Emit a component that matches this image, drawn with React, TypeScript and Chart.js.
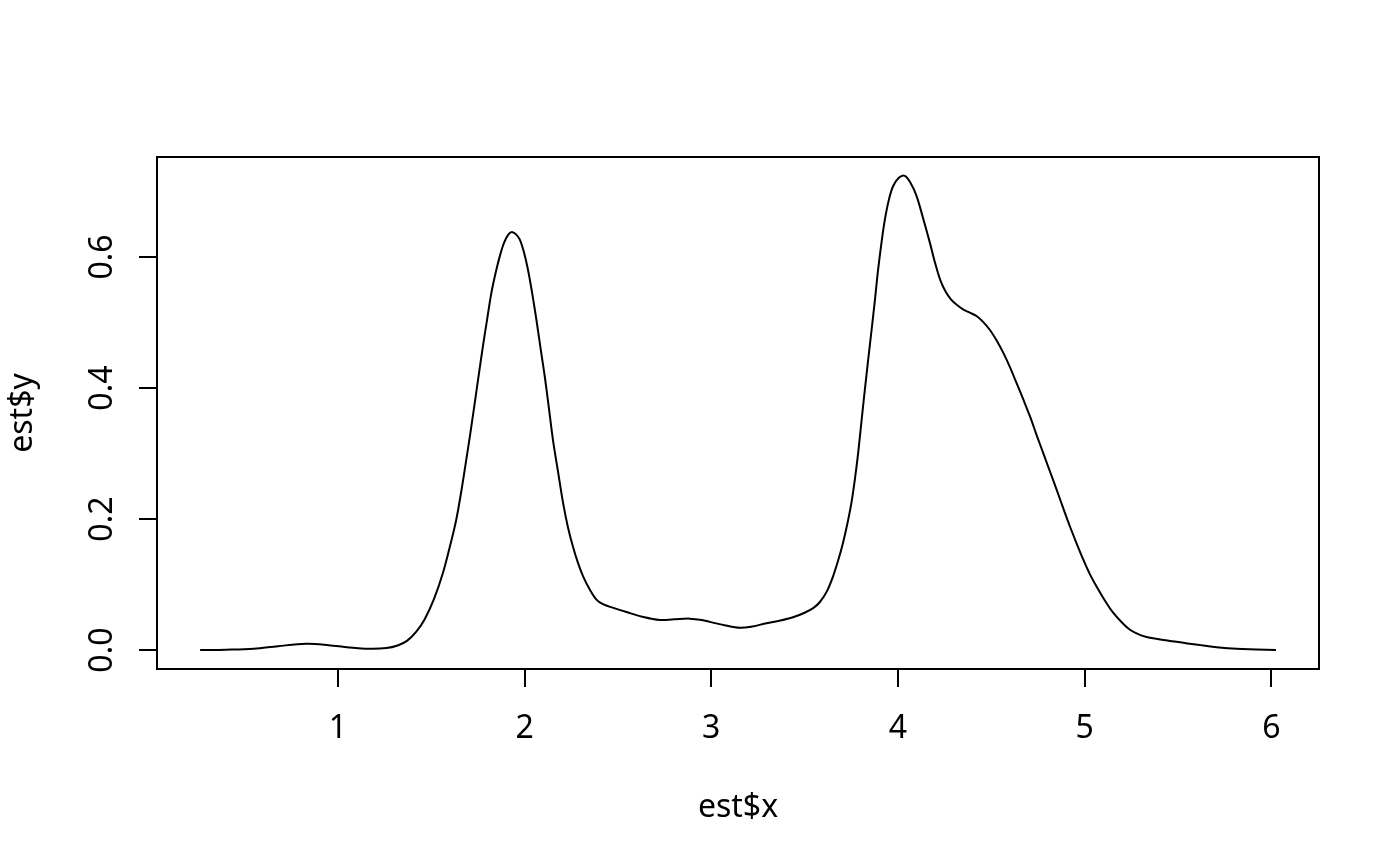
import React, { useEffect, useRef } from "react";
import { Chart, registerables } from "chart.js";

Chart.register(...registerables);

// Density estimate (est$x, est$y)
const estX: number[] = [
  0.262, 0.4, 0.55, 0.68, 0.83, 0.95, 1.06, 1.17, 1.26, 1.32, 1.37, 1.42, 1.465, 1.515, 1.563, 1.6,
  1.634, 1.662, 1.688, 1.711, 1.733, 1.755, 1.777, 1.8, 1.822, 1.845, 1.867, 1.885, 1.902, 1.918,
  1.935, 1.953, 1.974, 1.996, 2.018, 2.04, 2.063, 2.085, 2.108, 2.13, 2.152, 2.18, 2.206, 2.232,
  2.259, 2.286, 2.313, 2.35, 2.385, 2.42, 2.48, 2.546, 2.63, 2.724, 2.8, 2.885, 2.95, 2.992, 3.07,
  3.153, 3.22, 3.296, 3.37, 3.438, 3.5, 3.546, 3.581, 3.62, 3.653, 3.68, 3.706, 3.73, 3.751, 3.77,
  3.787, 3.805, 3.823, 3.841, 3.859, 3.877, 3.894, 3.912, 3.93, 3.952, 3.974, 4.005, 4.037, 4.068,
  4.1, 4.135, 4.171, 4.2, 4.228, 4.256, 4.285, 4.315, 4.349, 4.385, 4.421, 4.456, 4.492, 4.528,
  4.564, 4.6, 4.635, 4.671, 4.707, 4.742, 4.778, 4.814, 4.85, 4.885, 4.921, 4.957, 4.993, 5.028,
  5.064, 5.11, 5.153, 5.2, 5.243, 5.29, 5.332, 5.39, 5.457, 5.55, 5.635, 5.72, 5.814, 5.92, 6.025,
];
const estY: number[] = [
  0.0, 0.0005, 0.002, 0.006, 0.0095, 0.0075, 0.004, 0.002, 0.003, 0.007, 0.014, 0.028, 0.047, 0.078,
  0.118, 0.158, 0.199, 0.244, 0.291, 0.334, 0.377, 0.421, 0.464, 0.506, 0.545, 0.576, 0.601, 0.618,
  0.629, 0.636, 0.638, 0.635, 0.627, 0.608, 0.581, 0.546, 0.505, 0.462, 0.418, 0.37, 0.321, 0.271,
  0.225, 0.188, 0.158, 0.133, 0.113, 0.092, 0.077, 0.07, 0.064, 0.058, 0.051, 0.046, 0.047, 0.048,
  0.046, 0.043, 0.038, 0.034, 0.036, 0.041, 0.045, 0.05, 0.057, 0.064, 0.073, 0.09, 0.113, 0.137,
  0.164, 0.194, 0.225, 0.262, 0.301, 0.35, 0.398, 0.444, 0.489, 0.535, 0.581, 0.622, 0.657, 0.688,
  0.708, 0.721, 0.724, 0.713, 0.693, 0.659, 0.622, 0.59, 0.564, 0.547, 0.535, 0.527, 0.52, 0.515,
  0.51, 0.501, 0.489, 0.473, 0.454, 0.432, 0.408, 0.383, 0.357, 0.329, 0.301, 0.273, 0.245, 0.217,
  0.189, 0.163, 0.138, 0.116, 0.097, 0.075, 0.057, 0.042, 0.031, 0.024, 0.02, 0.017, 0.014, 0.01,
  0.007, 0.004, 0.002, 0.001, 0.0,
];

const xTicks: number[] = [1, 2, 3, 4, 5, 6];
const xTickLabels: string[] = ["1", "2", "3", "4", "5", "6"];
const yTicks: number[] = [0, 0.2, 0.4, 0.6];
const yTickLabels: string[] = ["0.0", "0.2", "0.4", "0.6"];
const xTitle = "est$x";
const yTitle = "est$y";

const X_MIN = 0.031;
const X_MAX = 6.2556;
const Y_MIN = -0.0289;
const Y_MAX = 0.7527;

const FONT = "'Noto Sans', 'Open Sans', sans-serif";
const FS = 32;

const boxAndYLabels = {
  id: "boxAndYLabels",
  afterDraw(chart: any) {
    const { ctx, chartArea } = chart;
    ctx.save();
    ctx.strokeStyle = "#000";
    ctx.lineWidth = 2;
    ctx.strokeRect(chartArea.left, chartArea.top, chartArea.right - chartArea.left, chartArea.bottom - chartArea.top);
    const ys = chart.scales.y;
    ctx.fillStyle = "#000";
    ctx.font = `${FS}px ${FONT}`;
    ctx.textAlign = "center";
    ctx.textBaseline = "alphabetic";
    yTicks.forEach((v, i) => {
      const py = ys.getPixelForValue(v);
      ctx.save();
      ctx.translate(112, py);
      ctx.rotate(-Math.PI / 2);
      ctx.fillText(yTickLabels[i], 0, 0);
      ctx.restore();
    });
    ctx.restore();
  },
};

export default function App() {
  const ref = useRef<HTMLCanvasElement | null>(null);
  useEffect(() => {
    if (!ref.current) return;
    const points = estX.map((x, i) => ({ x, y: estY[i] }));
    const chart = new Chart(ref.current, {
      type: "line",
      data: {
        datasets: [
          {
            data: points,
            borderColor: "#000",
            borderWidth: 2,
            pointRadius: 0,
            fill: false,
            tension: 0.35,
          },
        ],
      },
      options: {
        responsive: false,
        animation: false,
        events: [],
        layout: { padding: { top: 157, right: 81, left: 0, bottom: 0 } },
        plugins: { legend: { display: false }, tooltip: { enabled: false } },
        scales: {
          x: {
            type: "linear",
            min: X_MIN,
            max: X_MAX,
            afterBuildTicks: (s: any) => {
              s.ticks = xTicks.map((v) => ({ value: v }));
            },
            afterFit: (s: any) => {
              s.height = 197;
            },
            border: { display: false },
            grid: { display: true, drawOnChartArea: false, drawTicks: true, tickLength: 18, color: "#000", lineWidth: 2 },
            ticks: {
              color: "#000",
              font: { family: FONT, size: FS },
              padding: 23,
              maxRotation: 0,
              minRotation: 0,
              autoSkip: false,
              callback: (v: any) => {
                const i = xTicks.indexOf(Number(v));
                return i >= 0 ? xTickLabels[i] : "";
              },
            },
            title: {
              display: true,
              text: xTitle,
              color: "#000",
              font: { family: FONT, size: FS },
              padding: { top: 0, bottom: 39 },
            },
          },
          y: {
            type: "linear",
            min: Y_MIN,
            max: Y_MAX,
            afterBuildTicks: (s: any) => {
              s.ticks = yTicks.map((v) => ({ value: v }));
            },
            afterFit: (s: any) => {
              s.width = 157;
            },
            border: { display: false },
            grid: { display: true, drawOnChartArea: false, drawTicks: true, tickLength: 18, color: "#000", lineWidth: 2 },
            ticks: { display: false },
            title: {
              display: true,
              text: yTitle,
              color: "#000",
              font: { family: FONT, size: FS },
              padding: { top: 4, bottom: 0 },
            },
          },
        },
      },
      plugins: [boxAndYLabels],
    });
    return () => chart.destroy();
  }, []);
  return (
    <div style={{ position: "absolute", left: 0, top: 0, width: 1400, height: 866, background: "#fff" }}>
      <canvas ref={ref} width={1400} height={866} style={{ display: "block" }} />
    </div>
  );
}
